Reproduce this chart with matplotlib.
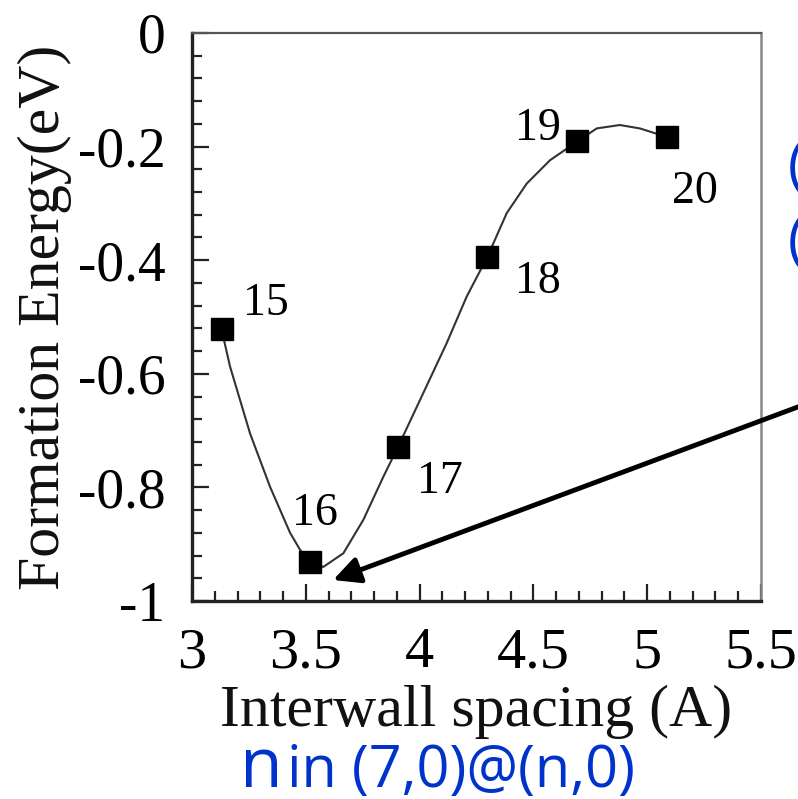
import matplotlib
matplotlib.use('Agg')
import matplotlib.pyplot as plt
from matplotlib.ticker import MultipleLocator, FuncFormatter

# data points (n of the outer tube, interwall spacing, formation energy)
n_outer = [15, 16, 17, 18, 19, 20]
spacing = [3.130, 3.518, 3.906, 4.298, 4.693, 5.086]
energy = [-0.522, -0.931, -0.728, -0.394, -0.191, -0.183]

# smooth guide curve
curve_x = [3.130, 3.167, 3.255, 3.343, 3.431, 3.475, 3.518, 3.577, 3.665,
           3.753, 3.841, 3.906, 4.002, 4.119, 4.207, 4.298, 4.383, 4.471,
           4.573, 4.693, 4.778, 4.880, 4.968, 5.086]
curve_y = [-0.522, -0.587, -0.705, -0.799, -0.880, -0.910, -0.931, -0.940,
           -0.916, -0.857, -0.781, -0.728, -0.646, -0.546, -0.464, -0.394,
           -0.317, -0.265, -0.224, -0.191, -0.168, -0.162, -0.168, -0.183]

# where each n label sits (left, baseline)
label_x = [3.224, 3.439, 3.989, 4.419, 4.419, 5.109]
label_y = [-0.496, -0.866, -0.810, -0.458, -0.188, -0.299]

plt.rcParams['axes.unicode_minus'] = False
serif = 'Liberation Serif'
blue = '#0033cc'


def fmt(v, pos):
    v = round(v, 2)
    if v == 0:
        return '0'
    return f'{v:g}'


fig = plt.figure(figsize=(7.98, 7.99), dpi=100)
ax = fig.add_axes([0.2406, 0.2478, 0.7130, 0.7109])

ax.plot(curve_x, curve_y, color='#333333', linewidth=1.5, zorder=2)
ax.plot(spacing, energy, ls='none', marker='s', markersize=15.5,
        color='black', zorder=3)
for n, lx, ly in zip(n_outer, label_x, label_y):
    ax.text(lx, ly, str(n), family=serif, fontsize=33, ha='left',
            va='baseline')

ax.set_xlim(3, 5.5)
ax.set_ylim(-1, 0)
ax.xaxis.set_major_locator(MultipleLocator(0.5))
ax.xaxis.set_minor_locator(MultipleLocator(0.1))
ax.yaxis.set_major_locator(MultipleLocator(0.2))
ax.yaxis.set_minor_locator(MultipleLocator(0.04))
ax.xaxis.set_major_formatter(FuncFormatter(fmt))
ax.yaxis.set_major_formatter(FuncFormatter(fmt))

ax.tick_params(which='both', direction='in', top=False, right=False,
               width=1.6, color='#222222')
ax.tick_params(which='major', length=12, pad=19)
ax.tick_params(which='minor', length=7)
for lab in ax.get_xticklabels():
    lab.set_family(serif)
    lab.set_fontsize(42)
for lab in ax.get_yticklabels():
    lab.set_family(serif)
    lab.set_fontsize(40)

ax.spines['left'].set_linewidth(2.4)
ax.spines['bottom'].set_linewidth(2.4)
ax.spines['left'].set_color('#222222')
ax.spines['bottom'].set_color('#222222')
ax.spines['top'].set_linewidth(1.6)
ax.spines['top'].set_color('#555555')
ax.spines['right'].set_linewidth(1.8)
ax.spines['right'].set_color('#888888')

ax.set_xlabel('Interwall spacing (A)', family=serif, fontsize=43,
              labelpad=4, color='#111111')
ax.set_ylabel('Formation Energy(eV)', family=serif, fontsize=43,
              labelpad=4, color='#111111')

# arrow pointing at the minimum
ax.annotate('', xy=(3.62, -0.963), xycoords='data',
            xytext=(830, 404), textcoords='figure pixels',
            arrowprops=dict(arrowstyle='-|>,head_length=1.6,head_width=0.8',
                            lw=3.5, color='black', shrinkA=0, shrinkB=0),
            annotation_clip=False, zorder=5)

# blue annotation text
fig.text(240 / 798, 1 - 787 / 799, 'n', family='Open Sans', fontsize=50,
         color=blue, ha='left', va='baseline')
fig.text(287 / 798, 1 - 787 / 799, 'in (7,0)@(n,0)', family='Open Sans',
         fontsize=41.5, color=blue, ha='left', va='baseline')
fig.text(788 / 798, 1 - 169 / 799, '(', family='Open Sans', fontsize=41.5,
         color=blue, ha='left', va='center')
fig.text(788 / 798, 1 - 244 / 799, '(', family='Open Sans', fontsize=41.5,
         color=blue, ha='left', va='center')

fig.savefig('out.png', dpi=100)
